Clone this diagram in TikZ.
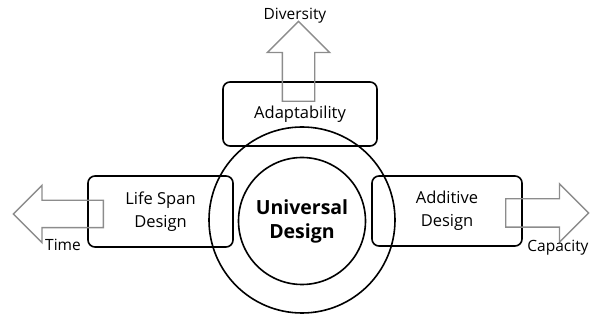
\documentclass[tikz,border=0pt]{standalone}
\usepackage{fontspec}
\setmainfont{Open Sans}
\usetikzlibrary{shapes.arrows, positioning}
\definecolor{arrowgray}{RGB}{140, 140, 140}

\begin{document}
\begin{tikzpicture}[x=1pt, y=-1pt,
  factorbox/.style={draw=black, line width=1.6pt, rounded corners=7pt, align=center, inner sep=0pt, font=\fontsize{16.5}{23}\selectfont},
  ring/.style={draw=black, line width=1.6pt, circle, inner sep=0pt},
  dirarrow/.style={single arrow, draw=arrowgray, line width=1.4pt, inner sep=13pt, single arrow head extend=15pt, anchor=tail},
  dirlabel/.style={inner sep=0pt, font=\fontsize{15.5}{18}\selectfont}
]
  \useasboundingbox (0,0) rectangle (592,320);

  % Three design factors
  \node[factorbox, minimum width=154pt, minimum height=64pt] (adapt) at (300,114) {Adaptability};
  \node[factorbox, minimum width=145pt, minimum height=71pt] (lifespan) at (160.5,211.5) {Life Span\\Design};
  \node[factorbox, minimum width=150pt, minimum height=70pt] (additive) at (447,211) {Additive\\Design};

  % Core
  \node[ring, minimum size=186pt] (outer) at (302,220) {};
  \node[ring, minimum size=127pt, align=center, font=\fontsize{19.5}{24}\selectfont\bfseries] (core) at (302,221) {Universal\\Design};

  % Directions of growth
  \node[dirarrow, shape border rotate=90, inner sep=15.5pt, minimum height=80pt] (uparrow) at (298.5,102) {};
  \node[dirarrow, shape border rotate=180, minimum height=90pt] (leftarrow) at (104,214) {};
  \node[dirarrow, inner sep=13.5pt, minimum height=83pt] (rightarrow) at (505,213) {};

  \node[dirlabel] (diversity) at (295,16) {Diversity};
  \node[dirlabel] (time) at (63,245) {Time};
  \node[dirlabel] (capacity) at (558,248) {Capacity};
\end{tikzpicture}
\end{document}
